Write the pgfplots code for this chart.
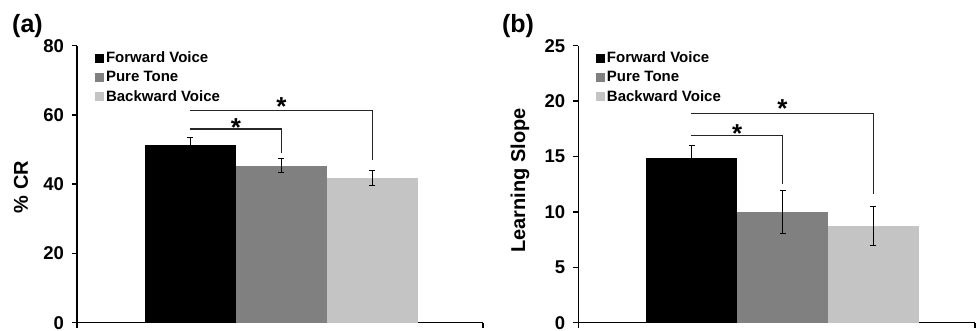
\documentclass[border=0pt]{standalone}
\usepackage{fontspec}
\setmainfont{Liberation Sans}
\usepackage{pgfplots}
\pgfplotsset{compat=1.18}
\definecolor{cgray}{RGB}{128,128,128}
\definecolor{clight}{RGB}{196,196,196}
\newcommand{\tl}[1]{\fontsize{18.5}{18.5}\selectfont\bfseries #1}
\tikzset{
  brk/.style={line width=1.5pt, black!85},
  star/.style={font=\fontsize{26}{26}\selectfont\bfseries, anchor=base, inner sep=0pt},
}
\pgfplotsset{
  every tick label/.append style={font=\fontsize{18.5}{18.5}\selectfont\bfseries},
  common/.style={
    scale only axis,
    height=277pt,
    anchor=south west,
    axis lines*=left,
    axis line style={line width=1.5pt, black},
    tick align=outside,
    major tick length=5pt,
    tick style={line width=1.5pt, black},
    ymin=0,
    clip=false,
    legend style={draw=none, fill=none, at={(0.044,0.985)}, anchor=north west,
      font=\fontsize{15}{15}\selectfont\bfseries, row sep=3.2pt, inner sep=0pt},
    legend cell align=left,
    legend image code/.code={\fill[##1] (0pt,-4.5pt) rectangle (9pt,4.5pt);},
  },
  bars/.style={ybar, bar width=1, bar shift=0pt, draw=none, fill=#1,
    error bars/.cd, y dir=both, y explicit,
    error bar style={line width=1pt, black},
    error mark options={rotate=90, mark size=3pt, line width=1pt, black}},
}
\begin{document}
\begin{tikzpicture}
\useasboundingbox (0,0) rectangle (976pt,331pt);
% Panel (a)
\begin{axis}[common, at={(77pt,8.3pt)}, width=406pt,
  xmin=-0.247, xmax=4.215, xtick={-0.247,4.215}, xticklabels={,},
  ymax=80, ytick={0,20,40,60,80},
  yticklabels={\tl{0},\tl{20},\tl{40},\tl{60},\tl{80}},
  yticklabel shift=4.5pt,
  ylabel={\% CR},
  ylabel style={font=\fontsize{20}{20}\selectfont\bfseries, at={(axis description cs:-0.138,0.49)}, anchor=center}]
\addplot[bars=black] coordinates {(1,51.3) +- (0,2.1)};
\addplot[bars=cgray] coordinates {(2,45.4) +- (0,1.9)};
\addplot[bars=clight] coordinates {(3,41.8) +- (0,2.2)};
\legend{Forward Voice, Pure Tone, Backward Voice}
\draw[brk] (axis cs:0.99,61.3) -- (axis cs:3,61.3) -- (axis cs:3,47);
\draw[brk] (axis cs:0.99,55.9) -- (axis cs:2,55.9) -- (axis cs:2,49.1);
\node[star] at (axis cs:2,59.9) {*};
\node[star] at (axis cs:1.5,53.7) {*};
\end{axis}
% Panel (b)
\begin{axis}[common, at={(578.3pt,8.3pt)}, width=396.7pt,
  xmin=-0.249, xmax=4.12, xtick={-0.249,4.12}, xticklabels={,},
  ymax=25, ytick={0,5,10,15,20,25},
  yticklabels={\tl{0},\tl{5},\tl{10},\tl{15},\tl{20},\tl{25}},
  yticklabel shift=4.5pt,
  ylabel={Learning Slope},
  ylabel style={font=\fontsize{20}{20}\selectfont\bfseries, at={(axis description cs:-0.147,0.513)}, anchor=center}]
\addplot[bars=black] coordinates {(1,14.84) +- (0,1.15)};
\addplot[bars=cgray] coordinates {(2,10.02) +- (0,1.93)};
\addplot[bars=clight] coordinates {(3,8.75) +- (0,1.76)};
\legend{Forward Voice, Pure Tone, Backward Voice}
\draw[brk] (axis cs:0.99,18.9) -- (axis cs:3,18.9) -- (axis cs:3,11.6);
\draw[brk] (axis cs:0.99,16.9) -- (axis cs:2,16.9) -- (axis cs:2,12.5);
\node[star] at (axis cs:2,18.56) {*};
\node[star] at (axis cs:1.5,16.3) {*};
\end{axis}
\node[font=\fontsize{25}{25}\selectfont\bfseries] at (27.5pt,305pt) {(a)};
\node[font=\fontsize{25}{25}\selectfont\bfseries] at (518pt,305pt) {(b)};
\end{tikzpicture}
\end{document}
